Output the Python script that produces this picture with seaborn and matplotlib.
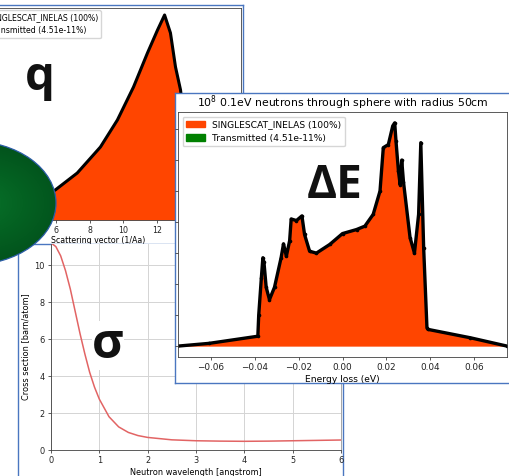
import numpy as np
import matplotlib
matplotlib.use("Agg")
import matplotlib.pyplot as plt
from matplotlib.patches import Ellipse, Patch
from matplotlib.colors import LinearSegmentedColormap
import seaborn as sns

# ---- momentum transfer distribution ----
q_vals = [0.0, 1.0, 2.0, 3.0, 4.0, 5.0, 5.94, 7.25, 8.63, 9.64, 10.6, 11.43,
          12.03, 12.45, 12.8, 13.1, 13.4, 13.8, 14.2, 14.6, 15.2, 17.0]
q_counts = [0.0, 0.05, 0.2, 0.45, 0.8, 1.15, 1.5, 2.35, 3.65, 5.0, 6.65, 8.35,
            9.5, 10.25, 9.35, 7.65, 6.5, 3.6, 1.2, 0.3, 0.05, 0.0]

# ---- energy transfer distribution ----
e_loss = [-0.0753, -0.0608, -0.0386, -0.0382, -0.0370, -0.0363, -0.0358, -0.0348,
          -0.0333, -0.0310, -0.0280, -0.0269, -0.0256, -0.0241, -0.0234, -0.0210,
          -0.0185, -0.0173, -0.0150, -0.0119, -0.0058, 0.0000, 0.0064, 0.0102,
          0.0140, 0.0171, 0.0186, 0.0209, 0.0229, 0.0238, 0.0244, 0.0255,
          0.0263, 0.0270, 0.0278, 0.0308, 0.0328, 0.0347, 0.0357, 0.0370,
          0.0385, 0.0390, 0.0583, 0.0751]
e_counts = [0.0, 0.09, 0.32, 1.0, 2.2, 2.85, 2.7, 1.9,
            1.5, 1.9, 2.85, 3.3, 2.9, 3.4, 4.1, 4.05,
            4.2, 3.6, 3.06, 3.0, 3.28, 3.63, 3.76, 3.87,
            4.25, 5.0, 6.4, 6.5, 7.1, 7.2, 6.6, 5.65,
            5.2, 6.0, 5.3, 3.5, 3.0, 4.25, 6.56, 3.17,
            0.6, 0.54, 0.27, 0.0]

# ---- total cross section vs wavelength ----
wavelength = [0.0, 0.1, 0.2, 0.3, 0.4, 0.5, 0.6, 0.7, 0.8, 0.9, 1.0, 1.2, 1.4,
              1.6, 1.8, 2.0, 2.5, 3.0, 3.5, 4.0, 4.5, 5.0, 5.5, 6.0]
xsect = [11.2, 11.0, 10.5, 9.7, 8.7, 7.5, 6.3, 5.2, 4.2, 3.4, 2.75, 1.8, 1.25,
         0.95, 0.78, 0.68, 0.55, 0.5, 0.48, 0.47, 0.48, 0.5, 0.52, 0.54]

legend_labels = ["SINGLESCAT_INELAS (100%)", "Transmitted (4.51e-11%)"]

W, H = 510, 476
ORANGE = "#ff4500"
GREEN = "green"
BLUE = "#4a76c0"
SPINE = "#404040"

fig = plt.figure(figsize=(W / 100, H / 100), dpi=100)


def box(x0, y0, x1, y1):
    return [x0 / W, 1 - y1 / H, (x1 - x0) / W, (y1 - y0) / H]


def fpos(x, y):
    return x / W, 1 - y / H


def frame(x0, y0, x1, y1):
    ax = fig.add_axes(box(x0, y0, x1, y1))
    ax.set_xticks([])
    ax.set_yticks([])
    ax.set_facecolor("white")
    for s in ax.spines.values():
        s.set_color(BLUE)
        s.set_linewidth(1.0)
    return ax


def style(ax, fs):
    for s in ax.spines.values():
        s.set_color(SPINE)
        s.set_linewidth(0.6)
    ax.tick_params(labelsize=fs, length=2.5, width=0.6, color=SPINE,
                   labelcolor="#222222", pad=2)


def legend(ax, fs, **kw):
    handles = [Patch(color=ORANGE), Patch(color=GREEN)]
    return ax.legend(handles, legend_labels, fontsize=fs, **kw)


# ---- q panel ----
frame(-20, 5, 243, 246)
axq = fig.add_axes(box(-44.5, 8, 241, 220))
axq.fill_between(q_vals, q_counts, color=ORANGE, lw=0)
sns.lineplot(x=q_vals, y=q_counts, ax=axq, color="black", lw=2.2,
             estimator=None)
axq.set_xlim(0, 17.0)
axq.set_ylim(0, 10.6)
axq.set_xticks([6, 8, 10, 12, 14, 16])
axq.set_yticks([])
style(axq, 5.7)
axq.set_xlabel("Scattering vector (1/Aa)", fontsize=5.7, labelpad=0.5)
legend(axq, 5.6, loc="upper right", bbox_to_anchor=fpos(101, 10),
       bbox_transform=fig.transFigure, borderaxespad=0)
axq.text(*fpos(40, 90), "q", transform=fig.transFigure, fontsize=34,
         fontfamily="Open Sans", fontweight="bold", ha="center",
         va="baseline", color="#111111")

# ---- cross-section panel ----
frame(18, 244, 343, 500)
axs = fig.add_axes(box(51, 244, 341, 450))
sns.lineplot(x=wavelength, y=xsect, ax=axs, color="#e26464", lw=1.1,
             estimator=None)
axs.set_xlim(0, 6)
axs.set_ylim(0, 11.14)
axs.set_xticks(range(0, 7))
axs.set_yticks(range(0, 11, 2))
axs.grid(True, color="#d4d4d4", lw=0.7)
axs.set_axisbelow(True)
style(axs, 5.9)
axs.spines["top"].set_visible(False)
axs.spines["right"].set_color("#999999")
axs.set_xlabel("Neutron wavelength [angstrom]", fontsize=5.9, labelpad=2)
axs.set_ylabel("Cross section [barn/atom]", fontsize=5.9, labelpad=3)
axs.text(*fpos(108, 358), "σ", transform=fig.transFigure, fontsize=35,
         fontfamily="Open Sans", fontweight="bold", ha="center",
         va="baseline", color="#111111",
         bbox=dict(facecolor="white", edgecolor="none", pad=0))

# ---- green ellipse ----
axo = fig.add_axes([0, 0, 1, 1])
axo.axis("off")
cx, cy, ea, eb = -30, 203, 86, 62
ell = Ellipse((cx, cy), 2 * ea, 2 * eb, facecolor="none", edgecolor="#2c5da8",
              lw=0.9, zorder=3)
axo.add_patch(ell)
gx = np.linspace(cx - ea, cx + ea, 300)
gy = np.linspace(cy - eb, cy + eb, 220)
GX, GY = np.meshgrid(gx, gy)
rr = np.sqrt(((GX - cx - 10) / ea) ** 2 + ((GY - cy) / eb) ** 2)
cmap = LinearSegmentedColormap.from_list("shade", ["#08722a", "#046222", "#02521c"])
img = axo.imshow(rr, extent=(cx - ea, cx + ea, cy + eb, cy - eb), cmap=cmap,
                 vmin=0, vmax=1.0, zorder=2, interpolation="bilinear")
img.set_clip_path(ell)
axo.set_xlim(0, W)
axo.set_ylim(H, 0)

# ---- energy loss panel ----
frame(175, 93, 520, 383)
axe = fig.add_axes(box(178, 112, 507, 357))
axe.fill_between(e_loss, e_counts, color=ORANGE, lw=0)
sns.lineplot(x=e_loss, y=e_counts, ax=axe, color="black", lw=2.4,
             marker="o", markersize=2.6, markeredgewidth=0, estimator=None)
axe.set_xlim(-0.075, 0.075)
axe.set_ylim(-0.35, 7.55)
axe.set_xticks(np.arange(-0.06, 0.061, 0.02))
axe.set_yticks(range(0, 8))
style(axe, 6.4)
axe.tick_params(axis="y", labelleft=False)
axe.set_xlabel("Energy loss (eV)", fontsize=6.6, labelpad=2)
axe.set_title(r"$10^8$ 0.1eV neutrons through sphere with radius 50cm",
              fontsize=7.8, pad=4)
legend(axe, 6.6, loc="upper left")
axe.text(*fpos(335, 198), "ΔE", transform=fig.transFigure, fontsize=33,
         fontfamily="Open Sans", fontweight="bold", ha="center",
         va="baseline", color="#111111")

fig.savefig("out.png", dpi=100)
